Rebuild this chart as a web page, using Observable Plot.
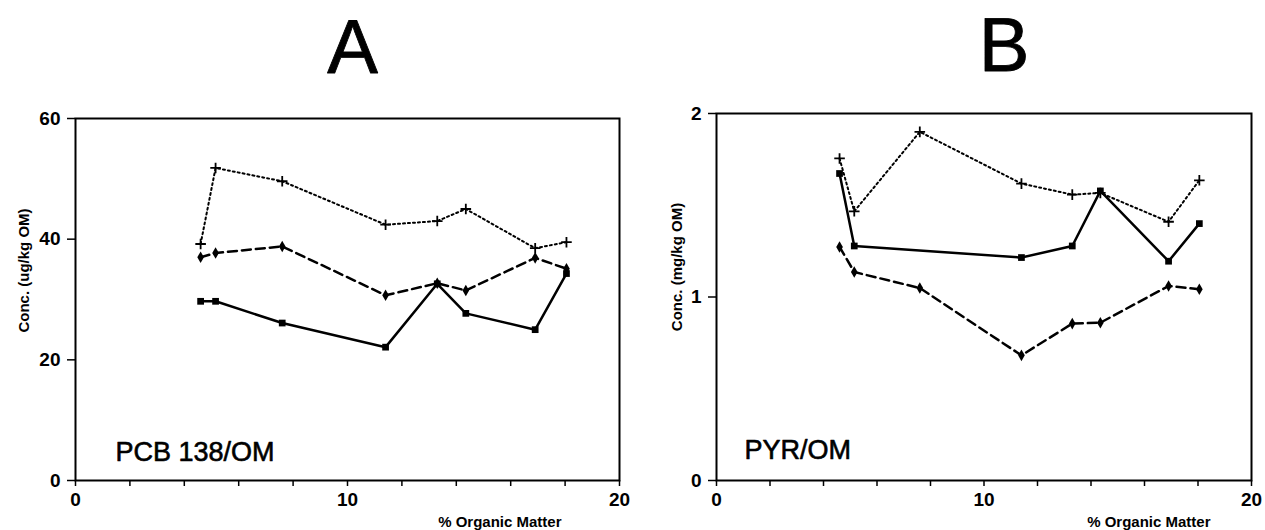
<!DOCTYPE html>
<html>
<head>
<meta charset="utf-8">
<script src="https://cdn.jsdelivr.net/npm/d3@7"></script>
<script src="https://cdn.jsdelivr.net/npm/@observablehq/plot@0.6"></script>
<style>
  html, body { margin: 0; padding: 0; background: #fff; }
  #wrap { position: relative; width: 1265px; height: 530px; overflow: hidden; background: #fff; }
  #wrap svg { position: absolute; top: 0; }
</style>
</head>
<body>
<div id="wrap"></div>
<script>
// ---- data ----
const omPct = [4.6, 5.15, 7.6, 11.4, 13.3, 14.35, 16.9, 18.05];

// Panel A: PCB 138 / OM (ug/kg OM)
const pcbDotted = [39.2, 51.8, 49.6, 42.4, 43.0, 45.0, 38.5, 39.5];
const pcbDashed = [37.0, 37.7, 38.8, 30.7, 32.7, 31.5, 36.9, 35.1];
const pcbSolid  = [29.7, 29.7, 26.1, 22.1, 32.6, 27.7, 25.0, 34.3];

// Panel B: PYR / OM (mg/kg OM)
const pyrDotted = [1.755, 1.467, 1.90, 1.618, 1.558, 1.567, 1.41, 1.636];
const pyrDashed = [1.273, 1.136, 1.049, 0.682, 0.855, 0.86, 1.06, 1.042];
const pyrSolid  = [1.673, 1.278, null, 1.215, 1.278, 1.578, 1.195, 1.40];

const xTicksMajor = [0, 10, 20];
const xTicksMinor = [0, 2, 4, 6, 8, 10, 12, 14, 16, 18, 20];
const yTicksA = [0, 20, 40, 60];
const yTicksB = [0, 1, 2];

const FONT = "'Liberation Sans', Arial, Helvetica, sans-serif";

function rows(vals) {
  return omPct.map((x, i) => ({x, y: vals[i]})).filter(d => d.y != null);
}

function panel(cfg) {
  const solid = rows(cfg.solid), dashed = rows(cfg.dashed), dotted = rows(cfg.dotted);
  return Plot.plot({
    width: cfg.width,
    height: 530,
    marginLeft: cfg.ml, marginRight: cfg.mr, marginTop: cfg.mt, marginBottom: 50,
    style: {fontFamily: FONT, fontSize: "16px", color: "black", background: "white", overflow: "visible"},
    x: {domain: [0, 20], label: null},
    y: {domain: cfg.ydomain, label: null},
    marks: [
      Plot.frame({stroke: "black", strokeWidth: 2}),
      Plot.axisX({ticks: xTicksMinor, tickFormat: () => "", tickSize: 6, strokeWidth: 1.5, label: null}),
      Plot.axisX({ticks: xTicksMajor, tickFormat: d3.format("d"), tickSize: 0, tickPadding: 12,
        fontWeight: "bold", fontSize: 19, label: null}),
      Plot.axisY({ticks: cfg.yticks, tickFormat: d3.format("d"), tickSize: 8, tickPadding: 7, strokeWidth: 1.5,
        fontWeight: "bold", fontSize: 19, label: null}),
      // series
      Plot.line(dotted, {x: "x", y: "y", stroke: "black", strokeWidth: 2, strokeDasharray: "2,3"}),
      Plot.line(dashed, {x: "x", y: "y", stroke: "black", strokeWidth: 2.5, strokeDasharray: "9,5"}),
      Plot.line(solid, {x: "x", y: "y", stroke: "black", strokeWidth: 2.5}),
      Plot.dot(dotted, {x: "x", y: "y", symbol: "plus", r: 3.5, stroke: "black", strokeWidth: 1.8}),
      Plot.dot(dashed, {x: "x", y: "y", symbol: "diamond", r: 3.5, fill: "black"}),
      Plot.dot(solid, {x: "x", y: "y", symbol: "square", r: 3.8, fill: "black"}),
      // texts
      Plot.text([cfg.title], {frameAnchor: "top", dx: cfg.titleDx, dy: cfg.titleDy, lineAnchor: "bottom",
        fontSize: 76, fill: "black", stroke: "black", strokeWidth: 0.8}),
      Plot.text([cfg.inset], {frameAnchor: "bottom-left", dx: cfg.insetDx, dy: cfg.insetDy, lineAnchor: "bottom",
        textAnchor: "start", fontSize: 27, fill: "black", stroke: "black", strokeWidth: 0.6}),
      Plot.text([cfg.ylabel], {frameAnchor: "left", dx: cfg.ylabDx, dy: cfg.ylabDy, rotate: -90,
        textAnchor: "middle", lineAnchor: "middle", fontSize: 15, fontWeight: "bold", fill: "black"}),
      Plot.text(["% Organic Matter"], {frameAnchor: "bottom-right", dx: cfg.xlabDx, dy: 46, lineAnchor: "bottom",
        textAnchor: "end", fontSize: 15, fontWeight: "bold", fill: "black"})
    ]
  });
}

const wrap = document.getElementById("wrap");

const a = panel({
  width: 632, ml: 75, mr: 13, mt: 118,
  ydomain: [0, 60], yticks: yTicksA,
  solid: pcbSolid, dashed: pcbDashed, dotted: pcbDotted,
  title: "A", titleDx: 5, titleDy: -46,
  inset: "PCB 138/OM", insetDx: 40, insetDy: -20,
  ylabel: "Conc. (ug/kg OM)", ylabDx: -51, ylabDy: -29,
  xlabDx: -58
});
a.style.left = "0px";
wrap.appendChild(a);

const b = panel({
  width: 633, ml: 84, mr: 14, mt: 113,
  ydomain: [0, 2], yticks: yTicksB,
  solid: pyrSolid, dashed: pyrDashed, dotted: pyrDotted,
  title: "B", titleDx: 20, titleDy: -43,
  inset: "PYR/OM", insetDx: 28, insetDy: -22,
  ylabel: "Conc. (mg/kg OM)", ylabDx: -39, ylabDy: -30,
  xlabDx: -41
});
b.style.left = "632px";
wrap.appendChild(b);
</script>
</body>
</html>
